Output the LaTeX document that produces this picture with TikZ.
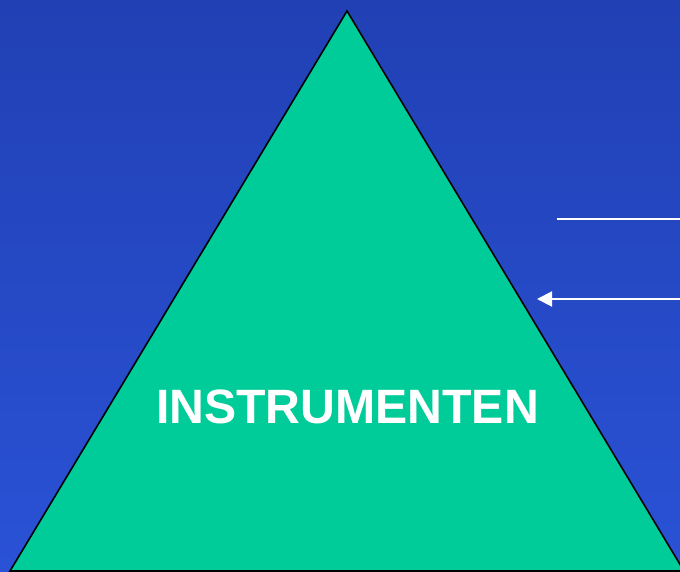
\documentclass[tikz,border=0pt]{standalone}
\usepackage{fontspec}
\setmainfont{Liberation Sans}
\usetikzlibrary{arrows.meta}
\definecolor{bgtop}{RGB}{33,64,180}
\definecolor{bgbot}{RGB}{42,82,214}
\definecolor{pyramid}{RGB}{0,204,153}
\tikzset{
  pointer/.style={draw=white, line width=2pt},
  pointerhead/.style={pointer, -{Triangle[length=15pt,width=15pt]}},
  label/.style={text=white, font=\bfseries\fontsize{48.2}{50}\selectfont, inner sep=0pt}
}
\begin{document}
\begin{tikzpicture}[x=1pt,y=1pt]
  % background
  \shade[top color=bgtop, bottom color=bgbot] (0,0) rectangle (680,571);
  \useasboundingbox (0,0) rectangle (680,571);
  % pyramid
  \coordinate (apex) at (347,560);
  \coordinate (bl) at (10,0);
  \coordinate (br) at (684,0);
  \filldraw[fill=pyramid, draw=black, line width=1.6pt, line join=miter]
    (apex) -- (bl) -- (br) -- cycle;
  \node[label] (title) at (347.5,164) {INSTRUMENTEN};
  % pointers at the right side
  \coordinate (l1a) at (557,352);
  \coordinate (l1b) at (681,352);
  \coordinate (l2a) at (681,272);
  \coordinate (l2b) at (537,272);
  \draw[pointer] (l1a) -- (l1b);
  \draw[pointerhead] (l2a) -- (l2b);
\end{tikzpicture}
\end{document}
